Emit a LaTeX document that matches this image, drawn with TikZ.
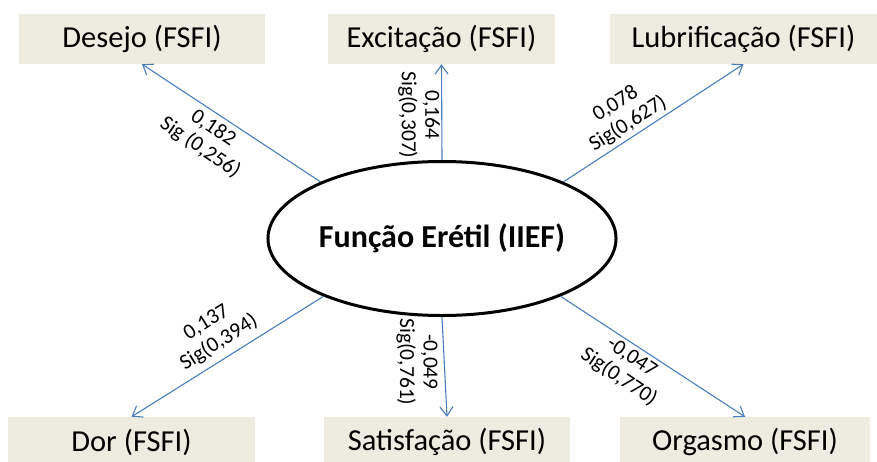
\documentclass[tikz,border=0pt]{standalone}
\usepackage{fontspec}
\setmainfont{Carlito}
\usetikzlibrary{arrows.meta,shapes.geometric}
\definecolor{boxfill}{HTML}{EEECE1}
\definecolor{arrowblue}{HTML}{4A7EBB}
\begin{document}
\begin{tikzpicture}[x=1pt,y=-1pt,
  box/.style={fill=boxfill, inner sep=0pt, minimum height=50pt, font=\fontsize{30.5}{36}\selectfont},
  lbl/.style={align=center, inner sep=0pt, font=\fontsize{21.5}{23.5}\selectfont},
  conn/.style={draw=arrowblue, line width=1.1pt, -{Straight Barb[length=9pt,width=13pt]}}]
\useasboundingbox (0,0) rectangle (877,461);
% boxes
\node[box, minimum width=246pt] (des) at (142,39) {Desejo (FSFI)};
\node[box, minimum width=227pt] (exc) at (441.5,39) {Excitação (FSFI)};
\node[box, minimum width=267pt] (lub) at (743.5,39) {Lubrificação (FSFI)};
\node[box, minimum width=247pt] (dor) at (131.5,442) {Dor (FSFI)};
\node[box, minimum width=246pt] (sat) at (447,442) {Satisfação (FSFI)};
\node[box, minimum width=250pt] (org) at (745,442) {Orgasmo (FSFI)};
% central ellipse
\node[ellipse, draw=black, line width=3pt, inner sep=0pt, minimum width=331pt, minimum height=154pt,
      font=\fontsize{32}{38}\selectfont\bfseries] (ell) at (442,238.5) {Função Erétil (IIEF)};
% connectors
\draw[conn] (ell.155.5) -- (des.south);
\draw[conn] (ell.north) -- (exc.south);
\draw[conn] (ell.25.6) -- (lub.south);
\draw[conn] (ell.206) -- (dor.north);
\draw[conn] (ell.south) -- (sat.north);
\draw[conn] (ell.334.6) -- (org.north);
% labels
\node[lbl, rotate=-34] (l1) at (206.5,138) {0,182\\Sig (0,256)};
\node[lbl, rotate=-90] (l2) at (419,115) {0,164\\Sig(0,307)};
\node[lbl, rotate=32] (l3) at (622,114) {0,078\\Sig(0,627)};
\node[lbl, rotate=32] (l4) at (213,333) {0,137\\Sig(0,394)};
\node[lbl, rotate=-90] (l5) at (417,362) {-0,049\\Sig(0,761)};
\node[lbl, rotate=-34] (l6) at (625,368) {-0,047\\Sig(0,770)};
\end{tikzpicture}
\end{document}
